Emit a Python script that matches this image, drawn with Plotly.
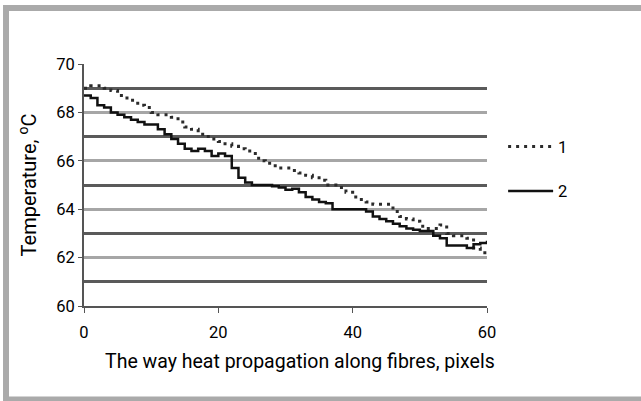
import plotly.graph_objects as go

# pixel position along fibres
x = list(range(61))

# curve 1 (dotted)
temp1 = [69.0, 69.1, 69.1, 69.0, 68.9, 68.7, 68.6, 68.5, 68.3, 68.2,
         68.0, 67.9, 67.9, 67.8, 67.6, 67.4, 67.3, 67.1, 67.0, 66.9,
         66.8, 66.7, 66.6, 66.5, 66.4, 66.3, 66.0, 65.9, 65.8, 65.7,
         65.7, 65.6, 65.5, 65.4, 65.3, 65.2, 65.0, 65.0, 64.9, 64.7,
         64.5, 64.4, 64.3, 64.2, 64.2, 64.2, 63.9, 63.7, 63.6, 63.5,
         63.3, 63.2, 63.2, 63.35, 63.0, 62.9, 62.9, 62.8, 62.4, 62.2,
         62.1]

# curve 2 (solid)
temp2 = [68.7, 68.6, 68.3, 68.2, 68.0, 67.9, 67.8, 67.7, 67.6, 67.5,
         67.5, 67.3, 67.1, 66.9, 66.7, 66.5, 66.4, 66.5, 66.4, 66.2,
         66.3, 66.2, 65.7, 65.3, 65.1, 65.0, 65.0, 65.0, 64.95, 64.9,
         64.8, 64.85, 64.7, 64.5, 64.4, 64.3, 64.25, 64.0, 64.0, 64.0,
         64.0, 64.0, 63.9, 63.7, 63.6, 63.5, 63.4, 63.3, 63.2, 63.15,
         63.1, 63.1, 62.9, 62.8, 62.5, 62.5, 62.5, 62.4, 62.55, 62.6,
         62.7]

names = ["1", "2"]
y_ticks = [60, 62, 64, 66, 68, 70]
x_ticks = [0, 20, 40, 60]
x_title = "The way heat propagation along fibres, pixels"

font = "Roboto, Arial, sans-serif"

fig = go.Figure()
fig.add_trace(go.Scatter(
    x=x, y=temp1, name=names[0], mode="lines", line_shape="hv",
    line=dict(color="#2b2b2b", width=3, dash="3px,5px"), legendgroup="a"))
fig.add_trace(go.Scatter(
    x=x, y=temp2, name=names[1], mode="lines", line_shape="hv",
    line=dict(color="#111111", width=2.5), legendgroup="b"))

# grey frame round the picture (left, top, bottom)
fig.add_shape(type="rect", xref="paper", yref="paper",
              x0=-0.1935, x1=1.5, y0=-0.386, y1=1.2314,
              line=dict(color="#aaaaaa", width=6), layer="below")

# x title sits a bit right of the plot centre in the original
fig.add_annotation(text=x_title, xref="paper", yref="paper",
                   x=0.536, y=-0.231, xanchor="center", yanchor="middle",
                   showarrow=False,
                   font=dict(family=font, size=19.5, color="black"))

fig.update_layout(
    width=641, height=401,
    margin=dict(l=84, r=154, t=64, b=95),
    paper_bgcolor="white", plot_bgcolor="white",
    font=dict(family=font, size=16.5, color="black"),
    showlegend=True,
    legend=dict(x=1.04, y=0.73, xanchor="left", yanchor="top",
                tracegroupgap=20, itemwidth=45,
                font=dict(size=16.5), bgcolor="rgba(0,0,0,0)"),
    xaxis=dict(range=[0, 60], tickvals=x_ticks, showgrid=False,
               zeroline=False, showline=True, linecolor="#555555",
               linewidth=2, ticks="outside", ticklen=5, tickcolor="#555555",
               ticklabelstandoff=5, automargin=False),
    yaxis=dict(range=[60, 70], tickvals=y_ticks, zeroline=False,
               showline=True, linecolor="#555555", linewidth=2,
               ticks="outside", ticklen=4, tickcolor="#555555",
               showgrid=True, gridcolor="#a6a6a6", gridwidth=3,
               automargin=False,
               minor=dict(tickvals=[61, 63, 65, 67, 69], showgrid=True,
                          gridcolor="#5a5a5a", gridwidth=3),
               title=dict(text="Temperature, <sup>o</sup>C", standoff=14)),
)

# page body has an 8px default margin; drop it so the figure sits at 0,0
fig.write_html("out.html", config={"displayModeBar": False},
               post_script="document.body.style.margin='0';")
